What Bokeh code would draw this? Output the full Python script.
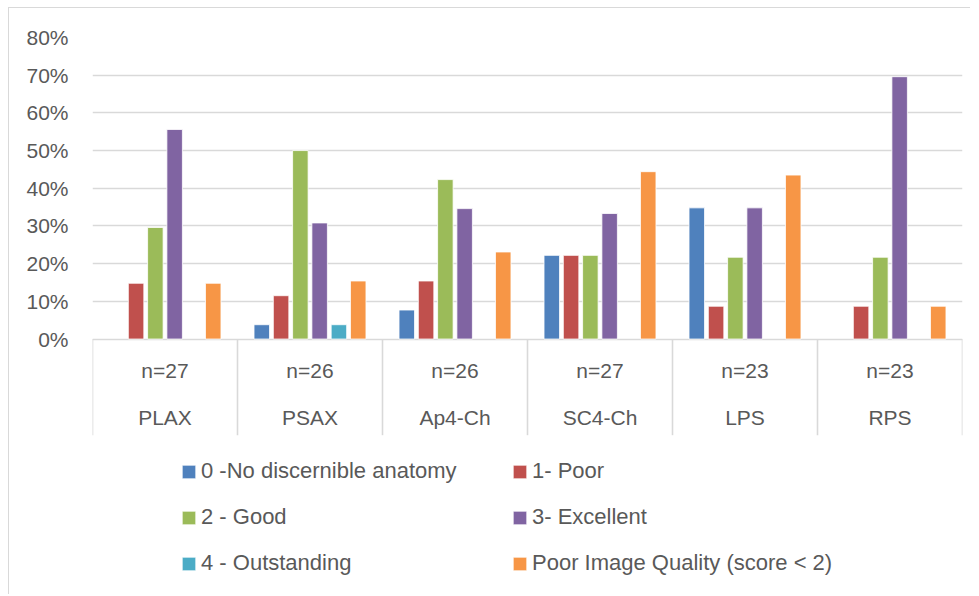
import numpy as np
from bokeh.plotting import figure
from bokeh.models import (ColumnDataSource, FactorRange, FixedTicker, NumeralTickFormatter,
                          Legend, LegendItem, Range1d)
from bokeh.transform import dodge
from bokeh.core.properties import value
from bokeh.embed import file_html
from bokeh.resources import INLINE

# ---------------- data ----------------
views = ["PLAX", "PSAX", "Ap4-Ch", "SC4-Ch", "LPS", "RPS"]
n_labels = ["n=27", "n=26", "n=26", "n=27", "n=23", "n=23"]
series_names = ["0 -No discernible anatomy", "1- Poor", "2 - Good", "3- Excellent",
                "4 - Outstanding", "Poor Image Quality (score < 2)"]
score0 = [0.0, 0.038, 0.077, 0.222, 0.348, 0.0]
score1 = [0.148, 0.115, 0.154, 0.222, 0.087, 0.087]
score2 = [0.296, 0.500, 0.423, 0.222, 0.217, 0.217]
score3 = [0.556, 0.308, 0.346, 0.333, 0.348, 0.696]
score4 = [0.0, 0.038, 0.0, 0.0, 0.0, 0.0]
poor_quality = [0.148, 0.154, 0.231, 0.444, 0.435, 0.087]
y_ticks = [0, 0.1, 0.2, 0.3, 0.4, 0.5, 0.6, 0.7, 0.8]

# ---------------- style ----------------
colors = ["#4F81BD", "#C0504D", "#9BBB59", "#8064A2", "#4BACC6", "#F79646"]
TXT = "#595959"
GRID = "#d9d9d9"
FONT = "Liberation Sans"
pitch = 0.133
bar_w = 0.107

all_series = [score0, score1, score2, score3, score4, poor_quality]
data = {"view": views, "n": n_labels}
for k, s in enumerate(all_series):
    data[f"s{k}"] = [np.nan if v == 0 else v for v in s]
source = ColumnDataSource(data)

p = figure(width=962, height=587, output_backend="svg", toolbar_location=None,
           x_range=FactorRange(factors=views, range_padding=0),
           y_range=Range1d(-0.6804, 0.8),
           x_axis_location=None,
           min_border_left=83, min_border_right=9, min_border_top=29, min_border_bottom=0)
p.styles = {"border-left": "1px solid #d9d9d9", "border-top": "1px solid #d9d9d9",
            "margin-left": "8px", "margin-top": "7px"}
p.outline_line_color = None
p.background_fill_color = "white"
p.border_fill_color = "white"

# y axis
ya = p.yaxis[0]
ya.ticker = FixedTicker(ticks=y_ticks)
ya.formatter = NumeralTickFormatter(format="0%")
ya.axis_line_color = None
ya.major_tick_line_color = None
ya.minor_tick_line_color = None
ya.major_tick_in = 0
ya.major_tick_out = 0
ya.major_label_standoff = 24
ya.major_label_text_font = FONT
ya.major_label_text_font_size = "21px"
ya.major_label_text_color = TXT

p.xgrid.visible = False
p.ygrid.grid_line_color = GRID
p.ygrid.grid_line_width = 1.6

# category separators (below zero line)
bounds = list(range(len(views) + 1))
p.segment(x0=bounds, y0=[0] * len(bounds), x1=bounds, y1=[-0.2551] * len(bounds),
          line_color=GRID, line_width=1.6)

# category labels
p.text(x="view", y=-0.0824, text="n", source=source, text_align="center",
       text_baseline="middle", text_font=value(FONT), text_font_size="21px", text_color=TXT)
p.text(x="view", y=-0.2073, text="view", source=source, text_align="center",
       text_baseline="middle", text_font=value(FONT), text_font_size="21px", text_color=TXT)

# bars
items = []
for k in range(6):
    r = p.vbar(x=dodge("view", (k - 2.5) * pitch, range=p.x_range), top=f"s{k}", bottom=0,
               width=bar_w, source=source, fill_color=colors[k], line_color="white",
               line_width=0.8)
    items.append(LegendItem(label=series_names[k], renderers=[r]))

legend = Legend(items=items, ncols=2, orientation="horizontal",
                location=(88, 19), margin=0, padding=0, spacing=20,
                glyph_width=17, glyph_height=17, label_standoff=4,
                label_width=290, label_height=26,
                label_text_font=FONT, label_text_font_size="22px", label_text_color=TXT,
                border_line_color=None, background_fill_alpha=0)
p.add_layout(legend, "center")

open("out.html", "w").write(file_html(p, INLINE))
